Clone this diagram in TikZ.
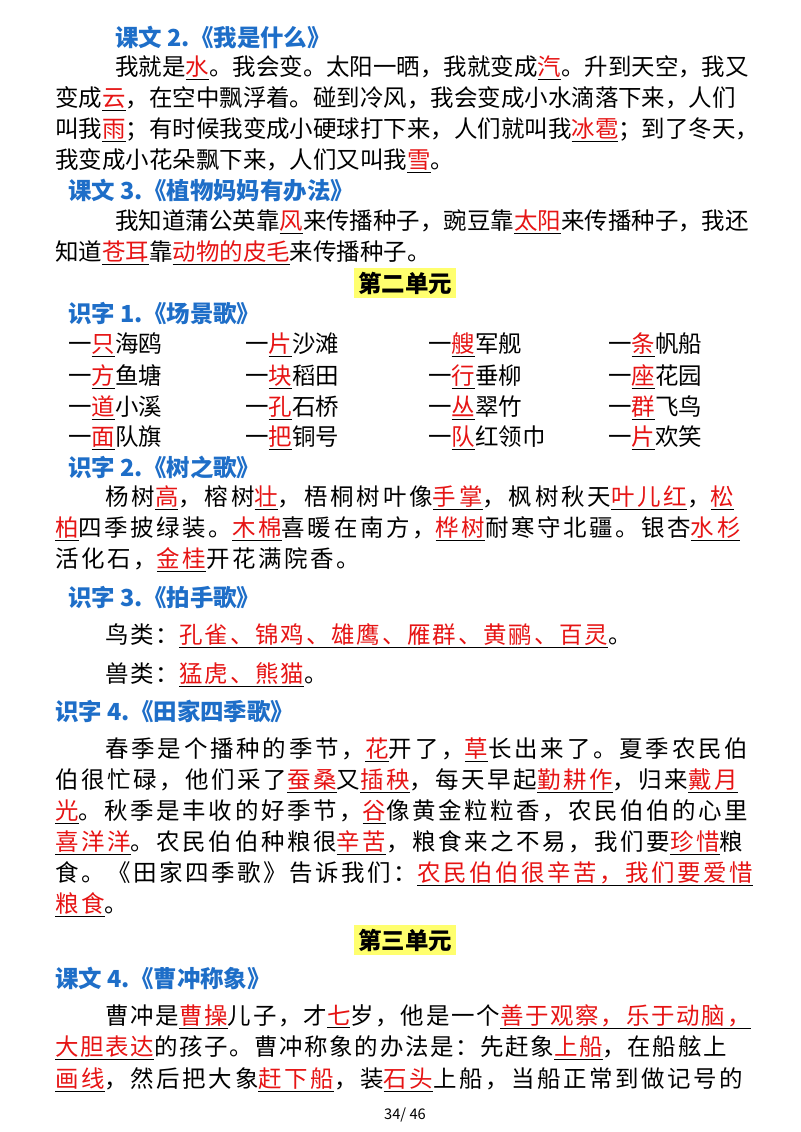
\documentclass[tikz,border=0pt]{standalone}
\usepackage{fontspec}
\setmainfont{Noto Sans CJK SC}
\definecolor{hblue}{RGB}{30,110,200}
\definecolor{hred}{RGB}{230,20,20}
\definecolor{hyel}{RGB}{255,255,110}
\newcommand{\hh}[1]{\underline{\textcolor{hred}{#1}}}
\begin{document}
\begin{tikzpicture}[x=0.75pt,y=-0.75pt,
  t/.style={anchor=west,inner sep=0pt,font=\fontsize{17.6pt}{20pt}\selectfont},
  ls/.style={t,font=\fontsize{17.6pt}{20pt}\selectfont\addfontfeature{LetterSpace=#1}},
  hd/.style={t,text=hblue,font=\fontsize{17.6pt}{20pt}\selectfont\bfseries},
  un/.style={inner sep=3pt,fill=hyel,font=\fontsize{17.6pt}{20pt}\selectfont\bfseries}]
\useasboundingbox[fill=white] (0,0) rectangle (800,1132);
\node[hd] (a1) at (115,37) {课文 2.《我是什么》};
\node[t] (a2) at (115,68) {我就是\hh{水}。我会变。太阳一晒，我就变成\hh{汽}。升到天空，我又};
\node[t] (a3) at (55,99) {变成\hh{云}，在空中飘浮着。碰到冷风，我会变成小水滴落下来，人们};
\node[t] (a4) at (55,130) {叫我\hh{雨}；有时候我变成小硬球打下来，人们就叫我\hh{冰雹}；到了冬天，};
\node[t] (a5) at (55,161) {我变成小花朵飘下来，人们又叫我\hh{雪}。};
\node[hd] (b1) at (68,191) {课文 3.《植物妈妈有办法》};
\node[t] (b2) at (115,222) {我知道蒲公英靠\hh{风}来传播种子，豌豆靠\hh{太阳}来传播种子，我还};
\node[t] (b3) at (55,253) {知道\hh{苍耳}靠\hh{动物的皮毛}来传播种子。};
\node[un] (u2) at (405,283) {第二单元};
\node[hd] (c1) at (68,314) {识字 1.《场景歌》};
\node[t] (r11) at (68,345) {一\hh{只}海鸥};
\node[t] (r12) at (245,345) {一\hh{片}沙滩};
\node[t] (r13) at (428,345) {一\hh{艘}军舰};
\node[t] (r14) at (608,345) {一\hh{条}帆船};
\node[t] (r21) at (68,377) {一\hh{方}鱼塘};
\node[t] (r22) at (245,377) {一\hh{块}稻田};
\node[t] (r23) at (428,377) {一\hh{行}垂柳};
\node[t] (r24) at (608,377) {一\hh{座}花园};
\node[t] (r31) at (68,408) {一\hh{道}小溪};
\node[t] (r32) at (245,408) {一\hh{孔}石桥};
\node[t] (r33) at (428,408) {一\hh{丛}翠竹};
\node[t] (r34) at (608,408) {一\hh{群}飞鸟};
\node[t] (r41) at (68,438) {一\hh{面}队旗};
\node[t] (r42) at (245,438) {一\hh{把}铜号};
\node[t] (r43) at (428,438) {一\hh{队}红领巾};
\node[t] (r44) at (608,438) {一\hh{片}欢笑};
\node[hd] (d1) at (68,467) {识字 2.《树之歌》};
\node[ls=12] (d2) at (105,498) {杨树\hh{高}，榕树\hh{壮}，梧桐树叶像\hh{手掌}，枫树秋天\hh{叶儿红}，\hh{松}};
\node[ls=11] (d3) at (55,529) {\hh{柏}四季披绿装。\hh{木棉}喜暖在南方，\hh{桦树}耐寒守北疆。银杏\hh{水杉}};
\node[ls=11] (d4) at (55,560) {活化石，\hh{金桂}开花满院香。};
\node[hd] (e1) at (68,598) {识字 3.《拍手歌》};
\node[ls=8] (e2) at (105,636) {鸟类：\hh{孔雀、锦鸡、雄鹰、雁群、黄鹂、百灵}。};
\node[ls=8] (e3) at (105,675) {兽类：\hh{猛虎、熊猫}。};
\node[hd] (f1) at (55,711) {识字 4.《田家四季歌》};
\node[ls=12] (f2) at (105,750) {春季是个播种的季节，\hh{花}开了，\hh{草}长出来了。夏季农民伯};
\node[ls=11] (f3) at (55,781) {伯很忙碌，他们采了\hh{蚕桑}又\hh{插秧}，每天早起\hh{勤耕作}，归来\hh{戴月}};
\node[ls=11] (f4) at (55,812) {\hh{光}。秋季是丰收的好季节，\hh{谷}像黄金粒粒香，农民伯伯的心里};
\node[ls=11] (f5) at (55,843) {\hh{喜洋洋}。农民伯伯种粮很\hh{辛苦}，粮食来之不易，我们要\hh{珍惜}粮};
\node[ls=11] (f6) at (55,874) {食。《田家四季歌》告诉我们：\hh{农民伯伯很辛苦，我们要爱惜}};
\node[ls=11] (f7) at (55,905) {\hh{粮食}。};
\node[un] (u3) at (405,940) {第三单元};
\node[hd] (g1) at (55,978) {课文 4.《曹冲称象》};
\node[ls=7.5] (g2) at (105,1017) {曹冲是\hh{曹操}儿子，才\hh{七}岁，他是一个\hh{善于观察，乐于动脑，}};
\node[ls=7] (g3) at (55,1048) {\hh{大胆表达}的孩子。曹冲称象的办法是：先赶象\hh{上船}，在船舷上};
\node[ls=11] (g4) at (55,1080) {\hh{画线}，然后把大象\hh{赶下船}，装\hh{石头}上船，当船正常到做记号的};
\node[font=\fontsize{11pt}{12pt}\selectfont] (pg) at (405,1115) {34/ 46};
\end{tikzpicture}
\end{document}
